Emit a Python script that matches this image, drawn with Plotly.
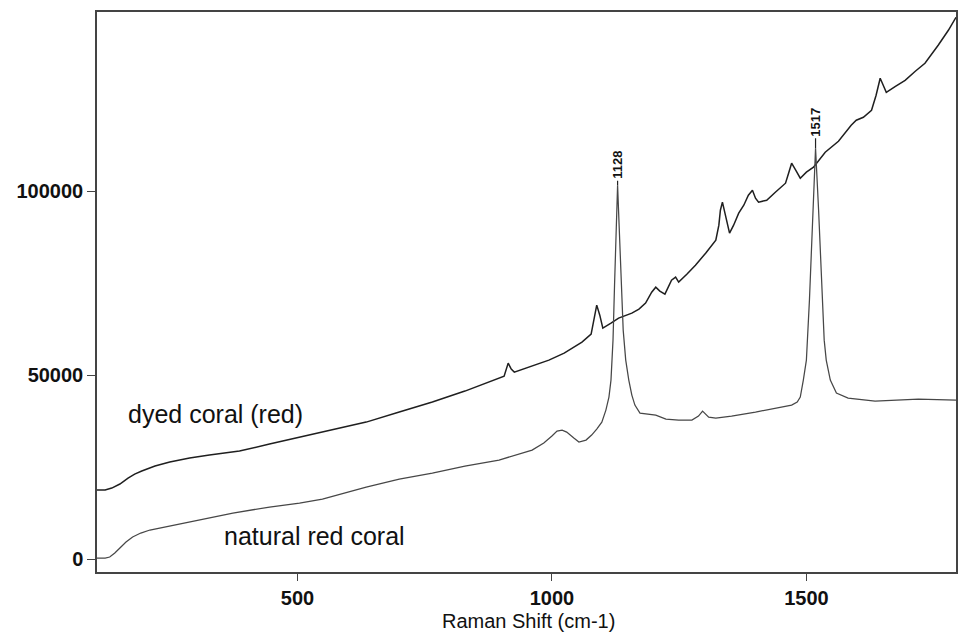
import plotly.graph_objects as go

# Raman shift (cm-1) and intensity
dyed_shift = [106, 122, 135, 151, 167, 180, 194, 220, 249, 288,
              327, 386, 445, 504, 569, 635, 700, 765, 829, 896,
              906, 914, 920, 926, 955, 994, 1024, 1059, 1077, 1082,
              1088, 1094, 1100, 1116, 1131, 1157, 1171, 1184, 1196, 1204,
              1212, 1222, 1229, 1235, 1243, 1249, 1265, 1282, 1302, 1322,
              1328, 1331, 1335, 1341, 1349, 1357, 1367, 1377, 1386, 1394,
              1400, 1406, 1422, 1439, 1459, 1465, 1471, 1479, 1488, 1500,
              1514, 1537, 1563, 1588, 1598, 1612, 1628, 1637, 1645, 1651,
              1657, 1675, 1694, 1714, 1733, 1759, 1779, 1794]
dyed_intensity = [18750, 18750, 19290, 20380, 22010, 23090, 23910, 25270, 26350, 27440,
                  28260, 29340, 31250, 33150, 35050, 37220, 39940, 42660, 45650, 49180,
                  49720, 53250, 51630, 50810, 52170, 54070, 55970, 58960, 61130, 64940,
                  69010, 66290, 62760, 64120, 65480, 66840, 67930, 69560, 72540, 73900,
                  72820, 72000, 73900, 75800, 76620, 75260, 77430, 79880, 83140, 86670,
                  90750, 94820, 97000, 93460, 88570, 90750, 94010, 96180, 98900, 100260,
                  98080, 97000, 97540, 99710, 102160, 104880, 107590, 105690, 103520, 105150,
                  106510, 110580, 113570, 117920, 119280, 120090, 121990, 126070, 130690, 128790,
                  126880, 128510, 130140, 132590, 134760, 139650, 143730, 147260]

natural_shift = [106, 122, 131, 141, 151, 163, 176, 192, 210, 239,
                 274, 327, 373, 445, 504, 549, 635, 700, 765, 829,
                 896, 961, 984, 1000, 1010, 1020, 1029, 1043, 1053, 1067,
                 1078, 1088, 1098, 1106, 1112, 1116, 1120, 1123, 1126, 1129,
                 1132, 1136, 1140, 1145, 1151, 1157, 1163, 1173, 1186, 1204,
                 1224, 1249, 1275, 1288, 1296, 1308, 1322, 1353, 1400, 1445,
                 1471, 1482, 1488, 1494, 1500, 1506, 1512, 1518, 1524, 1530,
                 1535, 1539, 1547, 1559, 1582, 1635, 1720, 1794]
natural_intensity = [270, 270, 540, 1630, 2990, 4620, 5980, 7060, 7880, 8690,
                     9780, 11140, 12500, 14130, 15220, 16300, 19560, 21740, 23370, 25270,
                     26900, 29620, 31520, 33420, 34780, 35050, 34510, 32880, 31790, 32330,
                     33690, 35320, 37220, 40480, 44020, 48630, 59500, 74450, 90750, 101620,
                     90750, 75800, 62220, 54070, 48630, 44560, 41840, 39670, 39400, 39120,
                     38040, 37770, 37770, 38850, 40210, 38580, 38310, 38850, 39940, 41030,
                     41840, 42660, 44020, 48630, 54070, 70370, 92110, 111670, 94820, 73090,
                     59500, 54070, 48630, 45100, 43740, 42930, 43470, 43200]

peak_labels = ["1128", "1517"]
peak_shift = [1129, 1518]
peak_intensity = [101620, 111670]

x_tickvals = [500, 1000, 1500]
x_ticktext = ["500", "1000", "1500"]
y_tickvals = [0, 50000, 100000]
y_ticktext = ["0", "50000", "100000"]
x_title = "Raman Shift (cm-1)"

FONT = "Liberation Sans, Arial, sans-serif"

fig = go.Figure()
fig.add_trace(go.Scatter(x=dyed_shift, y=dyed_intensity, mode="lines",
                         line=dict(color="#1f1f1f", width=1.5), name="dyed coral (red)"))
fig.add_trace(go.Scatter(x=natural_shift, y=natural_intensity, mode="lines",
                         line=dict(color="#474747", width=1.25), name="natural red coral"))

for lab, xs, ys, arm in zip(peak_labels, peak_shift, peak_intensity, [-6, -12]):
    fig.add_annotation(x=xs, y=ys, text=lab, textangle=-90, showarrow=True,
                       arrowhead=0, arrowwidth=1.2, arrowcolor="#222",
                       ax=0, ay=arm - 14, font=dict(family=FONT, size=13, color="#111", weight="bold"))

fig.add_annotation(x=339, y=39400, text="dyed coral (red)", showarrow=False,
                   font=dict(family=FONT, size=25, color="#111"))
fig.add_annotation(x=533, y=6300, text="natural red coral", showarrow=False,
                   font=dict(family=FONT, size=25, color="#111"))
fig.add_annotation(x=0.502, y=-0.0875, xref="paper", yref="paper",
                   xanchor="center", yanchor="middle", text=x_title, showarrow=False,
                   font=dict(family=FONT, size=20, color="#111"))

fig.update_layout(
    width=960, height=634,
    margin=dict(l=97, r=2, t=12, b=62),
    paper_bgcolor="white", plot_bgcolor="white",
    showlegend=False,
    font=dict(family=FONT, color="#111"),
)
fig.update_xaxes(range=[106, 1794], showgrid=False, zeroline=False,
                 showline=True, linecolor="#444", linewidth=1.5, mirror=True,
                 ticks="outside", ticklen=7, tickcolor="#444", tickwidth=1,
                 tickvals=x_tickvals, ticktext=x_ticktext,
                 tickfont=dict(family=FONT, size=20, color="#111", weight="bold"))
fig.update_yaxes(range=[-3530, 148700], showgrid=False, zeroline=False,
                 showline=True, linecolor="#444", linewidth=1.5, mirror=True,
                 ticks="outside", ticklen=8, tickcolor="#444", tickwidth=1,
                 tickvals=y_tickvals, ticktext=y_ticktext,
                 tickfont=dict(family=FONT, size=20, color="#111", weight="bold"))

fig.write_html("out.html", config={"displayModeBar": False},
               post_script="document.body.style.margin='0';document.body.style.overflow='hidden';")
